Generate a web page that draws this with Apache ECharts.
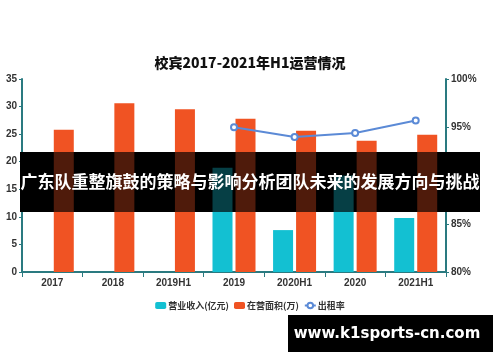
<!DOCTYPE html>
<html>
<head>
<meta charset="utf-8">
<script src="https://cdn.jsdelivr.net/npm/echarts@6/dist/echarts.min.js"></script>
<style>html,body{margin:0;padding:0;background:#fff}#c{width:500px;height:362px}</style>
</head>
<body>
<div id="c"></div>
<script>
const categories = ['2017', '2018', '2019H1', '2019', '2020H1', '2020', '2021H1'];
const revenue = [null, null, null, 18.9, 7.6, 17.5, 9.8];
const area = [25.8, 30.6, 29.5, 27.8, 25.6, 23.8, 24.9];
const rate = [null, null, null, 95.0, 94.0, 94.4, 95.7];
const leftTicks = { min: 0, max: 35, interval: 5 };
const rightTicks = { min: 80, max: 100, interval: 5 };
const seriesNames = ['营业收入(亿元)', '在营面积(万)', '出租率'];
const titleText = '校宾2017-2021年H1运营情况';
const bannerText = '广东队重整旗鼓的策略与影响分析团队未来的发展方向与挑战';
const watermark = 'www.k1sports-cn.com';

const axisColor = '#2a7a80';
const chart = echarts.init(document.getElementById('c'), null, { renderer: 'canvas' });
const lblStyle = { color: '#333', fontSize: 10, fontWeight: 'bold', fontFamily: 'Liberation Sans, Arial' };
chart.setOption({
  animation: false,
  title: { text: titleText, left: 'center', top: 51,
    textStyle: { fontSize: 14, fontWeight: 900, color: '#111', fontFamily: 'Noto Sans CJK SC' } },
  legend: { top: 296, left: 'center', itemWidth: 11, itemHeight: 7, itemGap: 5,
    textStyle: { color: '#333', fontSize: 9, fontWeight: 'bold', fontFamily: 'Noto Sans CJK SC', padding: [0, 0, 0, -3] },
    data: [seriesNames[0], seriesNames[1], seriesNames[2]] },
  grid: { left: 22, right: 54, top: 79, bottom: 90, containLabel: false },
  xAxis: { type: 'category', data: categories,
    axisLine: { lineStyle: { color: axisColor, width: 2 } },
    axisTick: { show: true, lineStyle: { color: axisColor } },
    axisLabel: Object.assign({ margin: 6 }, lblStyle) },
  yAxis: [
    { type: 'value', min: leftTicks.min, max: leftTicks.max, interval: leftTicks.interval,
      axisLine: { show: true, lineStyle: { color: axisColor, width: 2 } },
      axisTick: { show: true, length: 3, lineStyle: { color: axisColor } },
      splitLine: { show: false },
      axisLabel: Object.assign({ margin: 5 }, lblStyle) },
    { type: 'value', min: rightTicks.min, max: rightTicks.max, interval: rightTicks.interval,
      position: 'right',
      axisLine: { show: true, lineStyle: { color: axisColor, width: 2 } },
      axisTick: { show: true, length: 3, lineStyle: { color: axisColor } },
      splitLine: { show: false },
      axisLabel: Object.assign({ margin: 5, formatter: '{value}%' }, lblStyle) }
  ],
  series: [
    { name: seriesNames[0], type: 'bar', data: revenue, barWidth: 20, barGap: '15%',
      itemStyle: { color: '#13c0d2' } },
    { name: seriesNames[1], type: 'bar', data: area, barWidth: 20, barGap: '15%',
      itemStyle: { color: '#f05323' } },
    { name: seriesNames[2], type: 'line', yAxisIndex: 1, data: rate,
      symbol: 'emptyCircle', symbolSize: 6, z: 5,
      lineStyle: { color: '#5b8ad6', width: 2 },
      itemStyle: { color: '#5b8ad6', borderColor: '#5b8ad6' } }
  ],
  graphic: [
    { type: 'rect', z: 1, shape: { x: 20, y: 152, width: 460, height: 60 }, style: { fill: '#000' } },
    { type: 'rect', z: 100, shape: { x: 20, y: 152, width: 460, height: 60 }, style: { fill: 'rgba(0,0,0,0.67)' } },
    { type: 'text', z: 101, x: 250, y: 182, style: { text: bannerText, fill: '#fff',
        font: 'bold 17px "Noto Sans CJK SC"', textAlign: 'center', textVerticalAlign: 'middle' } },
    { type: 'rect', z: 100, shape: { x: 288, y: 315, width: 205, height: 37 }, style: { fill: '#000' } },
    { type: 'text', z: 101, x: 387, y: 334, style: { text: watermark, fill: '#fff',
        font: 'bold 15px "DejaVu Sans"', textAlign: 'center', textVerticalAlign: 'middle' } }
  ]
});
</script>
</body>
</html>
